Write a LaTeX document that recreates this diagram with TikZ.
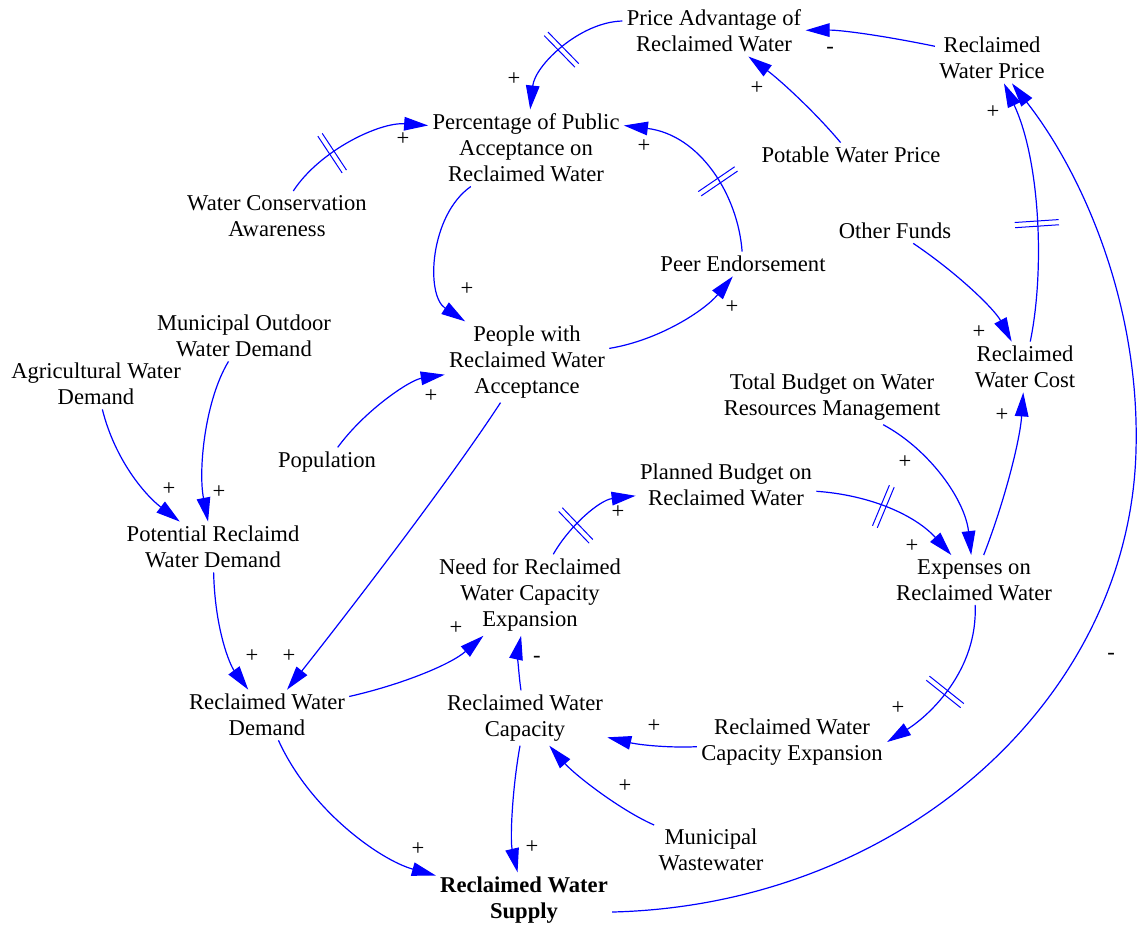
\documentclass[tikz,border=0pt]{standalone}
\usepackage{fontspec}
\setmainfont{Liberation Serif}
\usetikzlibrary{arrows.meta,decorations.markings}
\definecolor{linkblue}{RGB}{0,0,255}
\tikzset{
	var/.style={align=center,inner sep=2pt,font=\fontsize{11.3}{13}\selectfont},
	sign/.style={inner sep=0pt,font=\fontsize{11.3}{13}\selectfont},
	link/.style={draw=linkblue,line width=0.6pt,-{Triangle[length=12pt,width=6.8pt]}},
	delay/.style={postaction={decorate,decoration={markings,mark=at position #1 with {
		\draw[linkblue,line width=0.5pt,-] (-1.3pt,-11pt) -- (-1.3pt,11pt);
		\draw[linkblue,line width=0.5pt,-] (1.3pt,-11pt) -- (1.3pt,11pt);}}}}
}
\begin{document}
\begin{tikzpicture}[x=0.5pt,y=-0.5pt]
		\useasboundingbox (0,0) rectangle (1138,928);
		% variables
		\node[var] (adv) at (714,31) {Price Advantage of\\Reclaimed Water};
		\node[var] (price) at (992,58) {Reclaimed\\Water Price};
		\node[var] (pct) at (526,148) {Percentage of Public\\Acceptance on\\Reclaimed Water};
		\node[var] (potable) at (851,155) {Potable Water Price};
		\node[var] (wca) at (277,216) {Water Conservation\\Awareness};
		\node[var] (other) at (895,231) {Other Funds};
		\node[var] (peer) at (743,264) {Peer Endorsement};
		\node[var] (mod) at (244,336) {Municipal Outdoor\\Water Demand};
		\node[var] (ppl) at (527,362) {People with\\Reclaimed Water\\Acceptance};
		\node[var] (agr) at (96,384) {Agricultural Water\\Demand};
		\node[var] (cost) at (1025,367) {Reclaimed\\Water Cost};
		\node[var] (total) at (832,397) {Total Budget on Water\\Resources Management};
		\node[var] (pop) at (327,462) {Population};
		\node[var] (plan) at (726,485) {Planned Budget on\\Reclaimed Water};
		\node[var] (pot) at (213,547) {Potential Reclaimd\\Water Demand};
		\node[var] (exp) at (974,580) {Expenses on\\Reclaimed Water};
		\node[var] (need) at (530,595) {Need for Reclaimed\\Water Capacity\\Expansion};
		\node[var] (dem) at (267,715) {Reclaimed Water\\Demand};
		\node[var] (cap) at (525,718) {Reclaimed Water\\Capacity};
		\node[var] (rwce) at (792,742) {Reclaimed Water\\Capacity Expansion};
		\node[var] (mww) at (711,850) {Municipal\\Wastewater};
		\node[var,font=\fontsize{11.3}{13}\selectfont\bfseries] (supply) at (524,900) {Reclaimed Water\\Supply};
		% links
		\draw[link,delay=0.5] ([yshift=5pt]adv.west) .. controls (580,22) and (535,65) .. (pct);
		\draw[link] (price) .. controls (880,35) and (840,30) .. (adv);
		\draw[link] (potable) .. controls (815,112) and (780,80) .. (adv);
		\draw[link,delay=0.35] (wca) .. controls (320,150) and (380,122) .. ([yshift=-8pt]pct.north west);
		\draw[link,delay=0.4] (peer) .. controls (738,195) and (700,135) .. ([yshift=-8pt]pct.north east);
		\draw[link] (pct) .. controls (430,215) and (425,295) .. (ppl);
		\draw[link] (ppl) .. controls (660,340) and (705,310) .. (peer);
		\draw[link] (pop) .. controls (365,410) and (410,380) .. (ppl);
		\draw[link] (other) .. controls (960,275) and (995,310) .. (cost);
		\draw[link,delay=0.45] (cost) .. controls (1045,270) and (1040,160) .. (price);
		\draw[link] ([yshift=-6pt]supply.east) .. controls (900,905) and (1130,700) .. (1136,450) .. controls (1140,300) and (1080,170) .. (price);
		\draw[link] (agr) .. controls (115,460) and (145,495) .. (pot);
		\draw[link] (mod) .. controls (205,400) and (198,470) .. (pot);
		\draw[link] (pot) .. controls (215,630) and (230,665) .. (dem);
		\draw[link] (ppl) .. controls (450,480) and (350,610) .. (dem);
		\draw[link] (dem) .. controls (400,685) and (450,665) .. (need);
		\draw[link] (cap) .. controls (518,670) and (518,650) .. (need);
		\draw[link,delay=0.35] (need) .. controls (570,525) and (600,500) .. (plan);
		\draw[link,delay=0.45] (plan) .. controls (870,495) and (915,515) .. (exp);
		\draw[link] (total) .. controls (930,450) and (965,500) .. (exp);
		\draw[link] (exp) .. controls (1005,500) and (1020,440) .. (cost);
		\draw[link,delay=0.55] (exp) .. controls (978,670) and (930,715) .. (rwce.east);
		\draw[link] (rwce) .. controls (670,748) and (640,745) .. (cap);
		\draw[link] (mww) .. controls (620,810) and (575,775) .. (cap);
		\draw[link] (dem) .. controls (310,810) and (380,860) .. (supply);
		\draw[link] (cap) .. controls (512,790) and (510,840) .. (supply);
		% polarities
		\node[sign] (p1) at (514,79) {+};
		\node[sign] (p2) at (830,50) {-};
		\node[sign] (p3) at (757,88) {+};
		\node[sign] (p4) at (403,139) {+};
		\node[sign] (p5) at (644,146) {+};
		\node[sign] (p6) at (467,289) {+};
		\node[sign] (p7) at (732,307) {+};
		\node[sign] (p8) at (431,396) {+};
		\node[sign] (p9) at (979,332) {+};
		\node[sign] (p10) at (993,112) {+};
		\node[sign] (p11) at (1111,656) {-};
		\node[sign] (p12) at (169,489) {+};
		\node[sign] (p13) at (219,492) {+};
		\node[sign] (p14) at (252,656) {+};
		\node[sign] (p15) at (289,656) {+};
		\node[sign] (p16) at (456,628) {+};
		\node[sign] (p17) at (537,659) {-};
		\node[sign] (p18) at (618,512) {+};
		\node[sign] (p19) at (912,546) {+};
		\node[sign] (p20) at (905,462) {+};
		\node[sign] (p21) at (1002,415) {+};
		\node[sign] (p22) at (898,708) {+};
		\node[sign] (p23) at (654,726) {+};
		\node[sign] (p24) at (625,786) {+};
		\node[sign] (p25) at (418,849) {+};
		\node[sign] (p26) at (532,847) {+};
\end{tikzpicture}
\end{document}
